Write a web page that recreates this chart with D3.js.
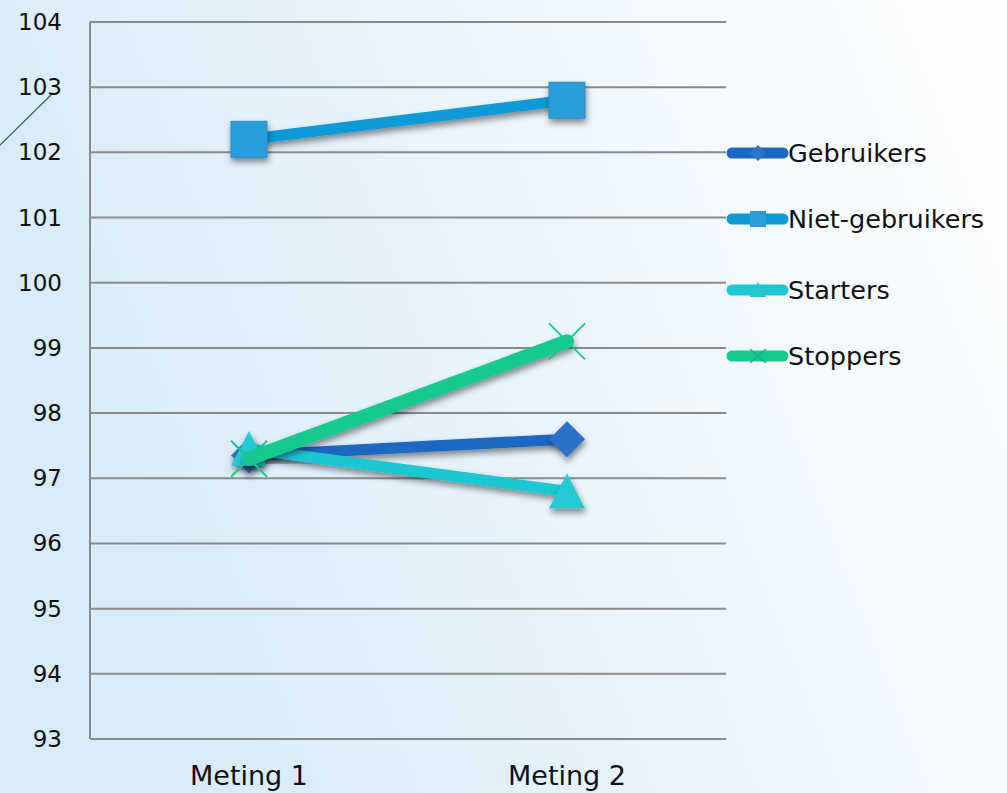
<!DOCTYPE html>
<html>
<head>
<meta charset="utf-8">
<script src="https://cdn.jsdelivr.net/npm/d3@7"></script>
<style>
  html, body { margin: 0; padding: 0; }
  body { width: 1007px; height: 793px; overflow: hidden; }
  svg text { font-family: 'DejaVu Sans', sans-serif; fill: #111; }
</style>
</head>
<body>
<svg id="chart" width="1007" height="793"></svg>
<script>
/* global d3 */
const categories = ['Meting 1', 'Meting 2'];
const seriesNames = ['Gebruikers', 'Niet-gebruikers', 'Starters', 'Stoppers'];
const gebruikers = [97.35, 97.6];
const nietGebruikers = [102.2, 102.8];
const starters = [97.45, 96.8];
const stoppers = [97.3, 99.1];
const yTicks = [93, 94, 95, 96, 97, 98, 99, 100, 101, 102, 103, 104];

const colors = ['#1a68c2', '#0f9ad6', '#1cc6d2', '#16c98f'];
const symbols = ['diamond', 'square', 'triangle', 'cross'];
const seriesValues = [gebruikers, nietGebruikers, starters, stoppers];

const svg = d3.select('#chart');
const W = 1007;
const H = 793;

// background gradient
const defs = svg.append('defs');
const grad = defs.append('linearGradient')
  .attr('id', 'bg').attr('x1', '0').attr('y1', '0.3').attr('x2', '1').attr('y2', '0');
grad.append('stop').attr('offset', '0').attr('stop-color', '#d7ebf8');
grad.append('stop').attr('offset', '0.55').attr('stop-color', '#eef6fc');
grad.append('stop').attr('offset', '1').attr('stop-color', '#ffffff');

const shadow = defs.append('filter').attr('id', 'shadow')
  .attr('x', '-50%').attr('y', '-50%').attr('width', '200%').attr('height', '200%');
shadow.append('feDropShadow')
  .attr('dx', 1).attr('dy', 4).attr('stdDeviation', 3)
  .attr('flood-color', '#000').attr('flood-opacity', 0.45);

svg.append('rect').attr('width', W).attr('height', H).attr('fill', 'url(#bg)');

// decorative slide line
svg.append('line')
  .attr('x1', -2).attr('y1', 147).attr('x2', 53).attr('y2', 93)
  .attr('stroke', '#2b5a8c').attr('stroke-width', 1.2);

const margin = { left: 90, right: 281, top: 22, bottom: 54 };
const x = d3.scaleBand().domain(categories)
  .range([margin.left, W - margin.right]);
const y = d3.scaleLinear().domain([93, 104])
  .range([H - margin.bottom, margin.top]);

// gridlines
svg.append('g').selectAll('line').data(yTicks).enter().append('line')
  .attr('x1', margin.left).attr('x2', W - margin.right)
  .attr('y1', d => y(d)).attr('y2', d => y(d))
  .attr('stroke', '#8a8a8a').attr('stroke-width', 2);

// y axis line
svg.append('line')
  .attr('x1', margin.left).attr('x2', margin.left)
  .attr('y1', y(104)).attr('y2', y(93))
  .attr('stroke', '#8a8a8a').attr('stroke-width', 2);

// y labels
svg.append('g').selectAll('text').data(yTicks).enter().append('text')
  .attr('x', 62).attr('y', d => y(d))
  .attr('text-anchor', 'end').attr('dominant-baseline', 'central')
  .attr('font-size', 23)
  .text(d => d);

// x labels
svg.append('g').selectAll('text').data(categories).enter().append('text')
  .attr('x', d => x(d) + x.bandwidth() / 2).attr('y', 785)
  .attr('text-anchor', 'middle').attr('font-size', 27)
  .text(d => d);

const cx = d => x(d) + x.bandwidth() / 2;
const line = d3.line().x((d, i) => cx(categories[i])).y(d => y(d));

function drawMarker(g, type, color, px, py, s) {
  if (type === 'diamond') {
    g.append('path')
      .attr('d', `M${px},${py - s}L${px + s},${py}L${px},${py + s}L${px - s},${py}Z`)
      .attr('fill', color).attr('filter', 'url(#shadow)');
  } else if (type === 'square') {
    g.append('rect')
      .attr('x', px - s).attr('y', py - s).attr('width', 2 * s).attr('height', 2 * s)
      .attr('fill', color).attr('stroke', d3.color(color).darker(0.3)).attr('stroke-width', 1)
      .attr('filter', 'url(#shadow)');
  } else if (type === 'triangle') {
    g.append('path')
      .attr('d', `M${px},${py - s}L${px + s},${py + s * 0.95}L${px - s},${py + s * 0.95}Z`)
      .attr('fill', color).attr('filter', 'url(#shadow)');
  } else {
    g.append('path')
      .attr('d', `M${px - s},${py - s}L${px + s},${py + s}M${px + s},${py - s}L${px - s},${py + s}`)
      .attr('stroke', color).attr('stroke-width', 2).attr('fill', 'none');
  }
}

const markerColors = ['#2b72c8', '#2a9edb', '#25c8d2', '#16c98f'];
const lineWidths = [11, 11, 11, 14];

seriesValues.forEach((vals, k) => {
  const g = svg.append('g');
  g.append('path').datum(vals)
    .attr('d', line)
    .attr('fill', 'none')
    .attr('stroke', colors[k])
    .attr('stroke-width', lineWidths[k])
    .attr('stroke-linecap', 'round')
    .attr('filter', 'url(#shadow)');
  vals.forEach((v, i) => {
    drawMarker(g, symbols[k], markerColors[k], cx(categories[i]), y(v), 18);
  });
});

// legend
const legendY = [153, 219, 290, 356];
const lg = svg.append('g');
seriesNames.forEach((name, k) => {
  const ly = legendY[k];
  lg.append('line')
    .attr('x1', 732).attr('x2', 783).attr('y1', ly).attr('y2', ly)
    .attr('stroke', colors[k]).attr('stroke-width', 11)
    .attr('stroke-linecap', 'round');
  const m = lg.append('g');
  if (symbols[k] === 'diamond') {
    m.append('path').attr('d', `M758,${ly - 8}L766,${ly}L758,${ly + 8}L750,${ly}Z`)
      .attr('fill', markerColors[k]);
  } else if (symbols[k] === 'square') {
    m.append('rect').attr('x', 750).attr('y', ly - 8).attr('width', 16).attr('height', 16)
      .attr('fill', markerColors[k]);
  } else if (symbols[k] === 'triangle') {
    m.append('path').attr('d', `M758,${ly - 8}L766,${ly + 7}L750,${ly + 7}Z`)
      .attr('fill', markerColors[k]);
  } else {
    m.append('path').attr('d', `M750,${ly - 7}L766,${ly + 7}M766,${ly - 7}L750,${ly + 7}`)
      .attr('stroke', '#13b883').attr('stroke-width', 1.5);
  }
  lg.append('text')
    .attr('x', 788).attr('y', ly)
    .attr('dominant-baseline', 'central')
    .attr('font-size', 25.5)
    .text(name);
});
</script>
</body>
</html>
